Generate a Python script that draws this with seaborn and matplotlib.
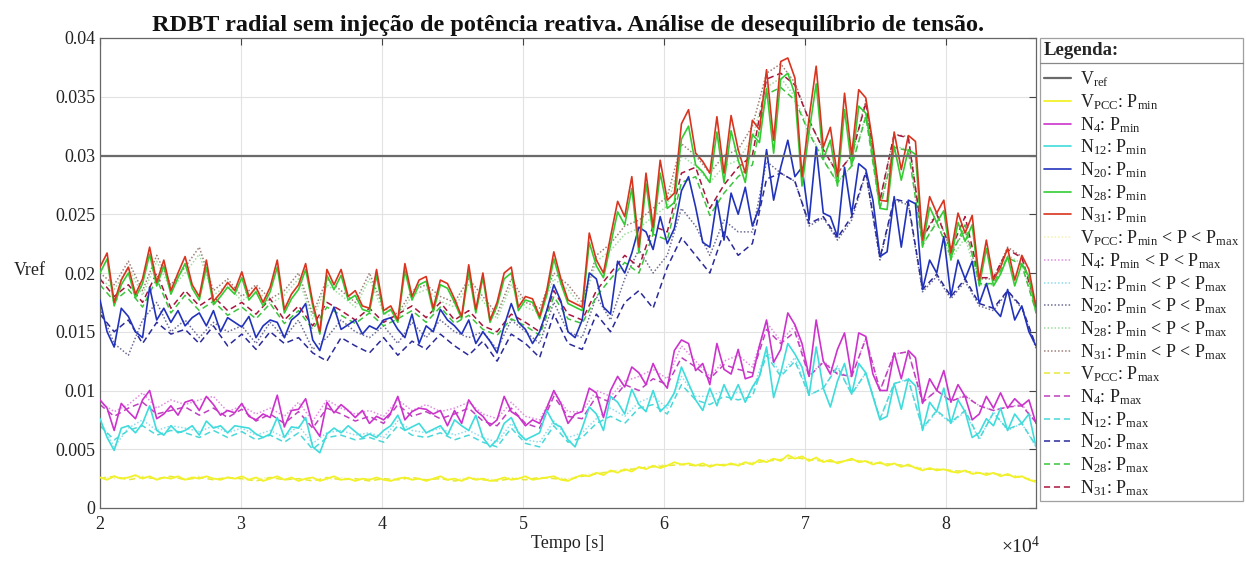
import numpy as np
import pandas as pd
import matplotlib
matplotlib.use('Agg')
import matplotlib.pyplot as plt
import seaborn as sns
from matplotlib.lines import Line2D
from matplotlib.ticker import FuncFormatter

# ---------------- data ----------------
t_fine = np.linspace(20000, 86400, 133)     # sample times of the P_min series [s]
t_coarse = np.linspace(20000, 86400, 67)    # sample times of the other series [s]
vref_t = [20000, 86400]
vref_v = [0.03, 0.03]

n31_pmin = [0.0205,0.0217,0.0175,0.0194,0.0205,0.0182,0.0195,0.0222,0.0192,0.0211,
            0.0185,0.0200,0.0214,0.0190,0.0180,0.0211,0.0176,0.0183,0.0192,0.0185,
            0.0201,0.0180,0.0188,0.0175,0.0188,0.0211,0.0169,0.0182,0.0190,0.0208,
            0.0175,0.0150,0.0203,0.0190,0.0203,0.0180,0.0185,0.0172,0.0170,0.0203,
            0.0168,0.0172,0.0160,0.0208,0.0180,0.0194,0.0197,0.0170,0.0194,0.0191,
            0.0178,0.0163,0.0207,0.0169,0.0200,0.0160,0.0175,0.0200,0.0205,0.0171,
            0.0180,0.0178,0.0163,0.0185,0.0218,0.0195,0.0177,0.0174,0.0171,0.0234,
            0.0211,0.0200,0.0231,0.0261,0.0248,0.0282,0.0222,0.0285,0.0239,0.0296,
            0.0262,0.0268,0.0327,0.0339,0.0302,0.0295,0.0285,0.0333,0.0285,0.0334,
            0.0305,0.0285,0.0330,0.0322,0.0373,0.0313,0.0380,0.0383,0.0366,0.0282,
            0.0332,0.0376,0.0307,0.0324,0.0282,0.0353,0.0300,0.0356,0.0349,0.0310,
            0.0262,0.0261,0.0320,0.0288,0.0317,0.0312,0.0228,0.0265,0.0251,0.0262,
            0.0217,0.0251,0.0234,0.0249,0.0194,0.0228,0.0194,0.0205,0.0221,0.0194,
            0.0215,0.0203,0.0171]
n28_pmin = [0.0200,0.0212,0.0172,0.0190,0.0200,0.0179,0.0191,0.0216,0.0189,0.0206,
            0.0182,0.0196,0.0208,0.0187,0.0177,0.0205,0.0173,0.0180,0.0188,0.0182,
            0.0196,0.0177,0.0184,0.0172,0.0184,0.0205,0.0166,0.0178,0.0186,0.0203,
            0.0172,0.0148,0.0198,0.0186,0.0198,0.0177,0.0181,0.0169,0.0167,0.0198,
            0.0165,0.0169,0.0158,0.0202,0.0177,0.0190,0.0193,0.0167,0.0190,0.0187,
            0.0175,0.0161,0.0201,0.0166,0.0196,0.0158,0.0172,0.0195,0.0200,0.0168,
            0.0177,0.0175,0.0161,0.0181,0.0212,0.0191,0.0174,0.0171,0.0168,0.0226,
            0.0206,0.0196,0.0224,0.0252,0.0241,0.0272,0.0217,0.0276,0.0233,0.0285,
            0.0255,0.0260,0.0314,0.0325,0.0292,0.0286,0.0277,0.0320,0.0277,0.0321,
            0.0296,0.0277,0.0318,0.0311,0.0357,0.0302,0.0365,0.0370,0.0352,0.0274,
            0.0320,0.0361,0.0297,0.0313,0.0274,0.0339,0.0291,0.0342,0.0336,0.0300,
            0.0255,0.0254,0.0308,0.0279,0.0305,0.0301,0.0222,0.0256,0.0243,0.0253,
            0.0211,0.0243,0.0227,0.0241,0.0189,0.0221,0.0189,0.0199,0.0214,0.0189,
            0.0208,0.0197,0.0166]
n20_pmin = [0.0177,0.0150,0.0137,0.0170,0.0163,0.0150,0.0145,0.0188,0.0160,0.0170,
            0.0158,0.0168,0.0155,0.0162,0.0166,0.0155,0.0168,0.0150,0.0162,0.0158,
            0.0154,0.0163,0.0145,0.0155,0.0160,0.0158,0.0145,0.0160,0.0165,0.0174,
            0.0143,0.0134,0.0155,0.0171,0.0152,0.0156,0.0160,0.0148,0.0155,0.0152,
            0.0160,0.0162,0.0152,0.0145,0.0165,0.0140,0.0155,0.0150,0.0169,0.0160,
            0.0155,0.0148,0.0160,0.0140,0.0150,0.0142,0.0132,0.0155,0.0174,0.0158,
            0.0152,0.0140,0.0150,0.0168,0.0190,0.0176,0.0150,0.0145,0.0160,0.0200,
            0.0195,0.0171,0.0165,0.0210,0.0200,0.0217,0.0239,0.0235,0.0220,0.0248,
            0.0225,0.0238,0.0270,0.0282,0.0256,0.0226,0.0222,0.0262,0.0228,0.0268,
            0.0250,0.0273,0.0240,0.0256,0.0305,0.0262,0.0290,0.0313,0.0282,0.0290,
            0.0245,0.0307,0.0251,0.0248,0.0231,0.0290,0.0250,0.0293,0.0288,0.0262,
            0.0214,0.0218,0.0265,0.0222,0.0262,0.0259,0.0186,0.0211,0.0200,0.0231,
            0.0180,0.0211,0.0195,0.0210,0.0174,0.0191,0.0170,0.0163,0.0186,0.0160,
            0.0172,0.0150,0.0138]
n4_pmin = [0.0092,0.0085,0.0066,0.0089,0.0082,0.0076,0.0092,0.0100,0.0076,0.0080,
           0.0087,0.0079,0.0090,0.0092,0.0083,0.0095,0.0088,0.0079,0.0083,0.0081,
           0.0089,0.0078,0.0075,0.0080,0.0077,0.0096,0.0069,0.0083,0.0084,0.0093,
           0.0070,0.0061,0.0090,0.0081,0.0088,0.0083,0.0077,0.0083,0.0072,0.0078,
           0.0075,0.0081,0.0095,0.0075,0.0082,0.0085,0.0084,0.0080,0.0083,0.0070,
           0.0083,0.0072,0.0092,0.0083,0.0078,0.0070,0.0075,0.0095,0.0082,0.0078,
           0.0070,0.0075,0.0072,0.0085,0.0100,0.0089,0.0072,0.0080,0.0082,0.0102,
           0.0098,0.0077,0.0100,0.0112,0.0103,0.0120,0.0115,0.0105,0.0123,0.0110,
           0.0102,0.0134,0.0143,0.0140,0.0117,0.0123,0.0105,0.0140,0.0118,0.0114,
           0.0135,0.0110,0.0112,0.0138,0.0160,0.0124,0.0135,0.0166,0.0156,0.0140,
           0.0112,0.0160,0.0125,0.0114,0.0135,0.0149,0.0112,0.0149,0.0146,0.0114,
           0.0100,0.0100,0.0132,0.0110,0.0134,0.0128,0.0089,0.0110,0.0100,0.0117,
           0.0090,0.0105,0.0095,0.0075,0.0080,0.0095,0.0085,0.0098,0.0085,0.0093,
           0.0087,0.0092,0.0072]
n12_pmin = [0.0076,0.0060,0.0049,0.0068,0.0070,0.0064,0.0072,0.0087,0.0066,0.0062,
            0.0070,0.0064,0.0066,0.0070,0.0062,0.0074,0.0068,0.0070,0.0064,0.0070,
            0.0069,0.0068,0.0063,0.0060,0.0063,0.0077,0.0060,0.0069,0.0068,0.0077,
            0.0052,0.0047,0.0063,0.0068,0.0064,0.0070,0.0065,0.0060,0.0063,0.0060,
            0.0066,0.0070,0.0079,0.0066,0.0069,0.0072,0.0064,0.0067,0.0070,0.0062,
            0.0075,0.0070,0.0066,0.0079,0.0060,0.0052,0.0058,0.0072,0.0077,0.0064,
            0.0058,0.0061,0.0064,0.0083,0.0072,0.0069,0.0058,0.0052,0.0068,0.0086,
            0.0080,0.0066,0.0095,0.0090,0.0080,0.0101,0.0088,0.0082,0.0100,0.0082,
            0.0088,0.0098,0.0120,0.0106,0.0092,0.0083,0.0102,0.0087,0.0105,0.0092,
            0.0105,0.0090,0.0103,0.0112,0.0137,0.0094,0.0115,0.0140,0.0131,0.0120,
            0.0096,0.0137,0.0102,0.0086,0.0108,0.0123,0.0097,0.0123,0.0115,0.0095,
            0.0075,0.0078,0.0106,0.0084,0.0110,0.0104,0.0066,0.0090,0.0082,0.0102,
            0.0072,0.0092,0.0082,0.0060,0.0064,0.0076,0.0070,0.0085,0.0066,0.0080,
            0.0072,0.0080,0.0052]
vpcc_pmin = [0.0026,0.0024,0.0027,0.0025,0.0026,0.0028,0.0025,0.0027,0.0024,0.0026,
             0.0025,0.0027,0.0024,0.0026,0.0025,0.0027,0.0025,0.0024,0.0026,0.0025,
             0.0027,0.0024,0.0026,0.0023,0.0025,0.0027,0.0024,0.0026,0.0023,0.0025,
             0.0026,0.0023,0.0025,0.0027,0.0024,0.0025,0.0023,0.0025,0.0024,0.0026,
             0.0024,0.0023,0.0025,0.0026,0.0024,0.0025,0.0023,0.0025,0.0027,0.0024,
             0.0025,0.0023,0.0026,0.0024,0.0025,0.0023,0.0024,0.0026,0.0024,0.0025,
             0.0027,0.0024,0.0025,0.0026,0.0027,0.0024,0.0023,0.0026,0.0028,0.0027,
             0.0030,0.0028,0.0032,0.0030,0.0033,0.0031,0.0035,0.0033,0.0036,0.0034,
             0.0036,0.0039,0.0037,0.0038,0.0036,0.0038,0.0035,0.0037,0.0036,0.0038,
             0.0036,0.0039,0.0037,0.0041,0.0039,0.0042,0.0040,0.0045,0.0042,0.0044,
             0.0040,0.0043,0.0039,0.0041,0.0038,0.0040,0.0042,0.0039,0.0040,0.0037,
             0.0039,0.0036,0.0038,0.0035,0.0037,0.0034,0.0032,0.0034,0.0032,0.0033,
             0.0031,0.0030,0.0032,0.0029,0.0030,0.0028,0.0030,0.0027,0.0029,0.0026,
             0.0027,0.0024,0.0022]

vpcc_mid = [0.0027,0.0025,0.0026,0.0027,0.0025,0.0026,0.0025,0.0027,0.0025,0.0026,
            0.0024,0.0025,0.0026,0.0025,0.0024,0.0025,0.0024,0.0026,0.0024,0.0025,
            0.0024,0.0025,0.0025,0.0024,0.0026,0.0024,0.0026,0.0025,0.0024,0.0026,
            0.0025,0.0025,0.0026,0.0025,0.0028,0.0030,0.0031,0.0033,0.0034,0.0036,
            0.0037,0.0038,0.0037,0.0037,0.0037,0.0038,0.0039,0.0041,0.0042,0.0044,
            0.0042,0.0041,0.0039,0.0041,0.0040,0.0038,0.0037,0.0036,0.0034,0.0033,
            0.0032,0.0031,0.0030,0.0029,0.0028,0.0027,0.0023]
n4_mid = [0.0090,0.0082,0.0088,0.0098,0.0085,0.0092,0.0088,0.0092,0.0095,0.0082,
          0.0087,0.0080,0.0085,0.0078,0.0090,0.0074,0.0092,0.0085,0.0080,0.0083,
          0.0078,0.0092,0.0083,0.0088,0.0082,0.0085,0.0090,0.0080,0.0076,0.0090,
          0.0078,0.0075,0.0098,0.0082,0.0082,0.0100,0.0095,0.0108,0.0112,0.0118,
          0.0110,0.0138,0.0125,0.0112,0.0125,0.0130,0.0120,0.0158,0.0142,0.0155,
          0.0112,0.0125,0.0115,0.0112,0.0145,0.0100,0.0131,0.0133,0.0090,0.0100,
          0.0091,0.0096,0.0087,0.0083,0.0086,0.0088,0.0073]
n12_mid = [0.0074,0.0052,0.0068,0.0075,0.0066,0.0070,0.0068,0.0065,0.0070,0.0064,
           0.0068,0.0062,0.0066,0.0060,0.0070,0.0055,0.0064,0.0066,0.0062,0.0064,
           0.0060,0.0074,0.0066,0.0064,0.0068,0.0062,0.0066,0.0060,0.0056,0.0072,
           0.0058,0.0056,0.0074,0.0060,0.0064,0.0076,0.0085,0.0078,0.0090,0.0095,
           0.0085,0.0112,0.0095,0.0095,0.0100,0.0098,0.0100,0.0134,0.0114,0.0128,
           0.0096,0.0102,0.0121,0.0097,0.0115,0.0075,0.0106,0.0110,0.0067,0.0082,
           0.0072,0.0082,0.0058,0.0082,0.0066,0.0072,0.0052]
n20_mid = [0.0170,0.0140,0.0130,0.0160,0.0175,0.0150,0.0160,0.0145,0.0158,0.0150,
           0.0155,0.0140,0.0158,0.0145,0.0160,0.0135,0.0145,0.0160,0.0150,0.0145,
           0.0155,0.0140,0.0158,0.0145,0.0160,0.0150,0.0145,0.0150,0.0135,0.0160,
           0.0150,0.0140,0.0175,0.0150,0.0145,0.0180,0.0160,0.0195,0.0220,0.0200,
           0.0215,0.0255,0.0240,0.0215,0.0245,0.0235,0.0235,0.0295,0.0285,0.0278,
           0.0240,0.0247,0.0228,0.0245,0.0285,0.0211,0.0262,0.0258,0.0184,0.0197,
           0.0178,0.0193,0.0172,0.0168,0.0184,0.0170,0.0136]
n28_mid = [0.0195,0.0186,0.0205,0.0181,0.0210,0.0186,0.0200,0.0216,0.0181,0.0190,
           0.0176,0.0186,0.0174,0.0181,0.0195,0.0161,0.0190,0.0181,0.0171,0.0195,
           0.0166,0.0161,0.0181,0.0186,0.0176,0.0171,0.0190,0.0176,0.0161,0.0190,
           0.0171,0.0166,0.0195,0.0186,0.0171,0.0210,0.0219,0.0233,0.0238,0.0248,
           0.0257,0.0300,0.0291,0.0277,0.0291,0.0296,0.0315,0.0358,0.0366,0.0350,
           0.0320,0.0297,0.0277,0.0291,0.0335,0.0255,0.0308,0.0305,0.0223,0.0245,
           0.0212,0.0230,0.0190,0.0190,0.0215,0.0208,0.0168]
n31_mid = [0.0200,0.0190,0.0210,0.0185,0.0215,0.0190,0.0205,0.0222,0.0185,0.0195,
           0.0180,0.0190,0.0178,0.0185,0.0200,0.0165,0.0195,0.0185,0.0175,0.0200,
           0.0170,0.0165,0.0185,0.0190,0.0180,0.0175,0.0195,0.0180,0.0165,0.0195,
           0.0175,0.0170,0.0200,0.0190,0.0175,0.0215,0.0225,0.0240,0.0245,0.0255,
           0.0265,0.0310,0.0300,0.0285,0.0300,0.0305,0.0325,0.0370,0.0378,0.0362,
           0.0330,0.0305,0.0285,0.0300,0.0347,0.0262,0.0318,0.0316,0.0230,0.0252,
           0.0218,0.0236,0.0195,0.0195,0.0222,0.0214,0.0173]

vpcc_pmax = [0.0025,0.0027,0.0024,0.0026,0.0025,0.0027,0.0024,0.0026,0.0024,0.0026,
             0.0025,0.0023,0.0026,0.0024,0.0025,0.0023,0.0026,0.0024,0.0025,0.0023,
             0.0025,0.0024,0.0026,0.0024,0.0025,0.0023,0.0025,0.0024,0.0023,0.0025,
             0.0024,0.0026,0.0025,0.0024,0.0027,0.0029,0.0031,0.0032,0.0034,0.0035,
             0.0036,0.0037,0.0036,0.0036,0.0037,0.0037,0.0038,0.0040,0.0041,0.0043,
             0.0041,0.0040,0.0039,0.0041,0.0039,0.0038,0.0037,0.0036,0.0033,0.0033,
             0.0032,0.0031,0.0030,0.0029,0.0028,0.0026,0.0023]
n4_pmax = [0.0088,0.0078,0.0085,0.0090,0.0080,0.0083,0.0086,0.0079,0.0085,0.0077,
           0.0084,0.0074,0.0080,0.0072,0.0082,0.0068,0.0085,0.0080,0.0074,0.0078,
           0.0072,0.0088,0.0078,0.0082,0.0076,0.0080,0.0085,0.0074,0.0070,0.0085,
           0.0072,0.0068,0.0095,0.0078,0.0076,0.0095,0.0090,0.0105,0.0100,0.0110,
           0.0105,0.0128,0.0120,0.0110,0.0122,0.0118,0.0115,0.0152,0.0140,0.0150,
           0.0112,0.0124,0.0114,0.0112,0.0144,0.0100,0.0131,0.0133,0.0090,0.0100,
           0.0091,0.0095,0.0087,0.0083,0.0086,0.0087,0.0073]
n12_pmax = [0.0070,0.0058,0.0066,0.0070,0.0062,0.0066,0.0064,0.0060,0.0066,0.0060,
            0.0065,0.0058,0.0062,0.0056,0.0064,0.0050,0.0060,0.0062,0.0058,0.0060,
            0.0056,0.0070,0.0062,0.0060,0.0064,0.0058,0.0062,0.0056,0.0052,0.0068,
            0.0055,0.0052,0.0070,0.0056,0.0060,0.0072,0.0078,0.0072,0.0085,0.0088,
            0.0080,0.0105,0.0092,0.0088,0.0095,0.0092,0.0095,0.0130,0.0112,0.0125,
            0.0096,0.0102,0.0120,0.0097,0.0115,0.0076,0.0106,0.0109,0.0068,0.0083,
            0.0073,0.0083,0.0059,0.0081,0.0067,0.0072,0.0053]
n20_pmax = [0.0165,0.0150,0.0160,0.0140,0.0158,0.0148,0.0152,0.0140,0.0155,0.0138,
            0.0148,0.0135,0.0150,0.0140,0.0145,0.0132,0.0125,0.0145,0.0138,0.0132,
            0.0145,0.0130,0.0142,0.0135,0.0148,0.0138,0.0130,0.0142,0.0125,0.0148,
            0.0140,0.0128,0.0165,0.0140,0.0135,0.0165,0.0150,0.0175,0.0185,0.0170,
            0.0205,0.0230,0.0215,0.0200,0.0235,0.0215,0.0225,0.0280,0.0285,0.0278,
            0.0242,0.0248,0.0230,0.0248,0.0286,0.0213,0.0263,0.0260,0.0186,0.0199,
            0.0180,0.0195,0.0174,0.0170,0.0185,0.0171,0.0138]
n28_pmax = [0.0190,0.0176,0.0186,0.0171,0.0195,0.0166,0.0181,0.0168,0.0176,0.0164,
            0.0171,0.0161,0.0174,0.0157,0.0168,0.0152,0.0171,0.0164,0.0157,0.0166,
            0.0155,0.0161,0.0168,0.0158,0.0171,0.0157,0.0164,0.0152,0.0147,0.0161,
            0.0155,0.0147,0.0180,0.0161,0.0157,0.0180,0.0195,0.0209,0.0200,0.0233,
            0.0228,0.0277,0.0282,0.0249,0.0268,0.0282,0.0292,0.0352,0.0358,0.0347,
            0.0319,0.0296,0.0277,0.0291,0.0333,0.0255,0.0307,0.0304,0.0224,0.0243,
            0.0214,0.0241,0.0191,0.0191,0.0213,0.0207,0.0167]
n31_pmax = [0.0195,0.0180,0.0190,0.0175,0.0200,0.0170,0.0185,0.0172,0.0180,0.0168,
            0.0175,0.0165,0.0178,0.0160,0.0172,0.0155,0.0175,0.0168,0.0160,0.0170,
            0.0158,0.0165,0.0172,0.0162,0.0175,0.0160,0.0168,0.0155,0.0150,0.0165,
            0.0158,0.0150,0.0185,0.0165,0.0160,0.0185,0.0200,0.0215,0.0205,0.0240,
            0.0235,0.0285,0.0290,0.0255,0.0275,0.0290,0.0300,0.0365,0.0370,0.0360,
            0.0330,0.0305,0.0285,0.0300,0.0345,0.0262,0.0318,0.0315,0.0230,0.0250,
            0.0220,0.0248,0.0196,0.0196,0.0220,0.0213,0.0172]

x_ticks = [20000, 30000, 40000, 50000, 60000, 70000, 80000]
y_ticks = [0, 0.005, 0.01, 0.015, 0.02, 0.025, 0.03, 0.035, 0.04]

# ---------------- style ----------------
sns.set_theme(style='white')
plt.rcParams['font.family'] = ['Liberation Serif', 'DejaVu Serif']
plt.rcParams['mathtext.fontset'] = 'custom'
plt.rcParams['mathtext.rm'] = 'Liberation Serif'
plt.rcParams['mathtext.it'] = 'Liberation Serif:italic'
plt.rcParams['mathtext.bf'] = 'Liberation Serif:bold'

DOT = (0, (1, 1.3))
DASH = (0, (4, 2.5))

def lab(node, kind):
    sub = {'min': 'P$_{\\mathrm{min}}$',
           'mid': 'P$_{\\mathrm{min}}$ < P < P$_{\\mathrm{max}}$',
           'max': 'P$_{\\mathrm{max}}$'}[kind]
    return node + ': ' + sub

VPCC = 'V$_{\\mathrm{PCC}}$'
series = [
    ('V$_{\\mathrm{ref}}$', vref_t, vref_v, '#6a6a6a', '-', 1.6, 4),
    (lab(VPCC, 'min'), t_fine, vpcc_pmin, '#f2f22a', '-', 1.3, 3),
    (lab('N$_{4}$', 'min'), t_fine, n4_pmin, '#cc33cc', '-', 1.2, 3),
    (lab('N$_{12}$', 'min'), t_fine, n12_pmin, '#3fdcdc', '-', 1.2, 3),
    (lab('N$_{20}$', 'min'), t_fine, n20_pmin, '#2233bb', '-', 1.2, 3),
    (lab('N$_{28}$', 'min'), t_fine, n28_pmin, '#33cc33', '-', 1.2, 3),
    (lab('N$_{31}$', 'min'), t_fine, n31_pmin, '#d8341e', '-', 1.2, 3.1),
    (lab(VPCC, 'mid'), t_coarse, vpcc_mid, '#f4f4b0', DOT, 1.1, 2),
    (lab('N$_{4}$', 'mid'), t_coarse, n4_mid, '#e08ee0', DOT, 1.1, 2),
    (lab('N$_{12}$', 'mid'), t_coarse, n12_mid, '#8fdcee', DOT, 1.1, 2),
    (lab('N$_{20}$', 'mid'), t_coarse, n20_mid, '#6e6e96', DOT, 1.1, 2),
    (lab('N$_{28}$', 'mid'), t_coarse, n28_mid, '#9ede9e', DOT, 1.1, 2),
    (lab('N$_{31}$', 'mid'), t_coarse, n31_mid, '#a08078', DOT, 1.1, 2),
    (lab(VPCC, 'max'), t_coarse, vpcc_pmax, '#e8e83a', DASH, 1.1, 2.5),
    (lab('N$_{4}$', 'max'), t_coarse, n4_pmax, '#c040c0', DASH, 1.1, 2.5),
    (lab('N$_{12}$', 'max'), t_coarse, n12_pmax, '#4ad8d8', DASH, 1.1, 2.5),
    (lab('N$_{20}$', 'max'), t_coarse, n20_pmax, '#2a2a9a', DASH, 1.1, 2.5),
    (lab('N$_{28}$', 'max'), t_coarse, n28_pmax, '#3cc43c', DASH, 1.1, 2.5),
    (lab('N$_{31}$', 'max'), t_coarse, n31_pmax, '#a8163c', DASH, 1.1, 2.5),
]

fig = plt.figure(figsize=(12.46, 5.62), dpi=100)
ax = fig.add_axes([100 / 1246, 1 - 508 / 562, 936 / 1246, 470 / 562])

handles, labels = [], []
for label, t, v, color, ls, lw, z in series:
    df = pd.DataFrame({'t': np.asarray(t, dtype=float), 'v': np.asarray(v, dtype=float)})
    sns.lineplot(data=df, x='t', y='v', ax=ax, color=color, linestyle=ls,
                 linewidth=lw, estimator=None, sort=False, legend=False, zorder=z)
    handles.append(Line2D([], [], color=color, linestyle=ls, linewidth=lw))
    labels.append(label)

ax.set_xlim(20000, 86400)
ax.set_ylim(0, 0.04)
ax.set_xticks(x_ticks)
ax.set_yticks(y_ticks)
ax.yaxis.set_major_formatter(FuncFormatter(lambda v, p: '%g' % round(v, 4)))
ax.xaxis.set_major_formatter(FuncFormatter(lambda v, p: '%g' % (v / 1e4)))
ax.grid(True, color='#e2e2e2', linewidth=0.8)
ax.set_axisbelow(True)
ax.tick_params(direction='in', top=True, right=True, length=5, width=0.8,
               colors='#444444', labelsize=13, labelcolor='#222222')
ax.tick_params(axis='x', pad=6)
for s in ax.spines.values():
    s.set_color('#666666')
    s.set_linewidth(0.9)

ax.set_xlabel('Tempo [s]', fontsize=13, color='#222222', labelpad=1)
ax.set_ylabel('Vref', fontsize=13, color='#222222', rotation=0, ha='center', va='center')
ax.yaxis.set_label_coords(-0.075, 0.506)
ax.set_title('RDBT radial sem injeção de potência reativa. Análise de desequilíbrio de tensão.',
             fontsize=17.5, fontweight='bold', pad=5, color='#111111')
fig.text(1040 / 1246, 1 - 553 / 562, '$\\times$10$^{4}$', ha='right', va='baseline',
         fontsize=14, color='#222222')

leg = ax.legend(handles, labels, loc='upper left',
                bbox_to_anchor=(1040 / 1246, 1 - 38 / 562), bbox_transform=fig.transFigure,
                borderaxespad=0, frameon=True, fancybox=False, edgecolor='#888888',
                fontsize=13, title='Legenda:',
                title_fontproperties={'weight': 'bold', 'size': 13.5},
                alignment='left', handlelength=1.5, handletextpad=0.5,
                labelspacing=0.165, borderpad=0.2)
leg._legend_box.sep = 8
leg.get_frame().set_linewidth(0.9)
for txt in leg.get_texts():
    txt.set_color('#222222')

fig.canvas.draw()
r = fig.canvas.get_renderer()
lb = leg.get_window_extent(r)
tb = leg.get_title().get_window_extent(r)
W, H = fig.bbox.width, fig.bbox.height
yline = (tb.y0 - 4) / H
fig.add_artist(Line2D([lb.x0 / W, lb.x1 / W], [yline, yline], color='#888888', linewidth=0.9))

fig.savefig('out.png', dpi=100)
